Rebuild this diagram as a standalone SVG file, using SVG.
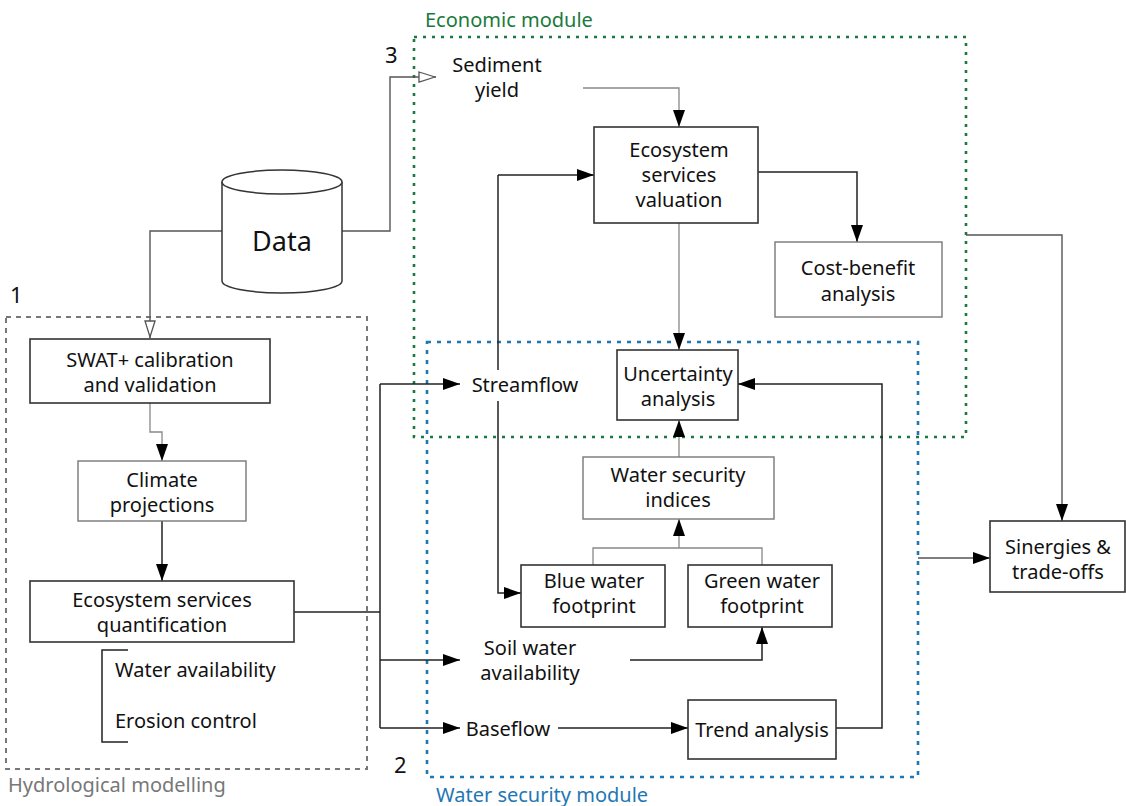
<svg xmlns="http://www.w3.org/2000/svg" width="1126" height="806" viewBox="0 0 1126 806">
<defs>
<marker id="arr" viewBox="0 0 17 12" refX="17" refY="6" markerWidth="17" markerHeight="12" markerUnits="userSpaceOnUse" orient="auto"><path d="M0,0 L17,6 L0,12 Z" fill="#000"/></marker>
<marker id="open" viewBox="0 0 18 12" refX="18" refY="6" markerWidth="18" markerHeight="12" markerUnits="userSpaceOnUse" orient="auto"><path d="M1,1 L17,6 L1,11 Z" fill="#fff" stroke="#555" stroke-width="1.3"/></marker>
</defs>
<style>
text{font-family:"Noto Sans","Open Sans","DejaVu Sans",sans-serif;font-size:20px;fill:#111;text-anchor:middle}
.l{text-anchor:start}
.box{fill:#fff;stroke:#333;stroke-width:1.6}
.gbox{fill:#fff;stroke:#777;stroke-width:1.4}
.c{fill:none;stroke:#222;stroke-width:1.5}
.cg{fill:none;stroke:#888;stroke-width:1.3}
.cd{fill:none;stroke:#555;stroke-width:1.4}
.a{marker-end:url(#arr)}
.o{marker-end:url(#open)}
</style>
<rect width="1126" height="806" fill="#fff"/>

<g id="modules">
<rect x="6" y="317" width="361" height="452" fill="none" stroke="#777" stroke-width="2" stroke-dasharray="5 5"/>
<rect x="414" y="37" width="552" height="400" fill="none" stroke="#1a7a3c" stroke-width="2.6" stroke-dasharray="3 6"/>
<rect x="427" y="342" width="491" height="435" fill="none" stroke="#1f77b4" stroke-width="2.6" stroke-dasharray="4 6"/>
<text class="l" x="425" y="27" style="fill:#1a7a3c">Economic module</text>
<text class="l" x="8" y="792" style="fill:#777">Hydrological modelling</text>
<text class="l" x="436" y="802" style="fill:#1f77b4">Water security module</text>
<text class="l" x="385" y="63" style="font-size:22px">3</text>
<text class="l" x="10" y="303" style="font-size:22px">1</text>
<text class="l" x="394" y="773" style="font-size:22px">2</text>
</g>

<g id="connectors">
<path class="cd o" d="M222,231 H150 V338"/>
<path class="cd o" d="M342,231 H390 V77 H436"/>
<path class="cg a" d="M150,403 V432 H162 V461"/>
<path class="c a" d="M162,521 V581"/>
<path class="c" d="M294,612 H380"/>
<path class="c" d="M380,384 V728"/>
<path class="c a" d="M380,384 H460"/>
<path class="c a" d="M380,660 H460"/>
<path class="c a" d="M380,728 H460"/>
<path class="c" d="M498,370 V175"/>
<path class="c a" d="M498,175 H594"/>
<path class="c a" d="M498,401 V593 H521"/>
<path class="cg a" d="M583,88 H679 V127"/>
<path class="c a" d="M758,172 H857 V242"/>
<path class="cg a" d="M679,223 V350"/>
<path class="c a" d="M836,728 H882 V384 H738"/>
<path class="cg a" d="M679,457 V420"/>
<path class="cg" d="M593,565 V548 H762 V565"/>
<path class="cg a" d="M679,548 V519"/>
<path class="c a" d="M630,660 H762 V627"/>
<path class="c a" d="M558,728 H688"/>
<path class="cd a" d="M966,235 H1062 V521"/>
<path class="cd a" d="M918,558 H990"/>
<path class="c" d="M128,650 H102 V742 H128"/>
</g>

<g id="data">
<path d="M222,182 V281 A60,12 0 0 0 342,281 V182" fill="#fff" stroke="#333" stroke-width="1.5"/>
<ellipse cx="282" cy="182" rx="60" ry="12" fill="#fff" stroke="#333" stroke-width="1.5"/>
<text x="282" y="251" style="font-size:27px">Data</text>
</g>

<g id="swat">
<rect class="box" x="30" y="339" width="240" height="64"/>
<text x="150" y="367">SWAT+ calibration</text>
<text x="150" y="392">and validation</text>
</g>

<g id="climate">
<rect class="gbox" x="78" y="461" width="168" height="60"/>
<text x="162" y="487">Climate</text>
<text x="162" y="512">projections</text>
</g>

<g id="esq">
<rect class="box" x="30" y="581" width="264" height="61"/>
<text x="162" y="607">Ecosystem services</text>
<text x="162" y="632">quantification</text>
</g>

<g id="services">
<text class="l" x="115" y="677">Water availability</text>
<text class="l" x="115" y="728">Erosion control</text>
</g>

<g id="sediment">
<text x="497" y="72">Sediment</text>
<text x="497" y="97">yield</text>
</g>

<g id="esv">
<rect class="box" x="594" y="127" width="164" height="96"/>
<text x="679" y="157">Ecosystem</text>
<text x="679" y="182">services</text>
<text x="679" y="207">valuation</text>
</g>

<g id="cba">
<rect class="gbox" x="775" y="242" width="167" height="75"/>
<text x="858" y="275">Cost-benefit</text>
<text x="858" y="301">analysis</text>
</g>

<g id="streamflow">
<text x="525" y="392">Streamflow</text>
</g>

<g id="uncertainty">
<rect class="box" x="617" y="350" width="121" height="70"/>
<text x="678" y="381">Uncertainty</text>
<text x="678" y="406">analysis</text>
</g>

<g id="wsi">
<rect class="gbox" x="583" y="457" width="191" height="62"/>
<text x="678" y="482">Water security</text>
<text x="678" y="507">indices</text>
</g>

<g id="blue">
<rect class="box" x="521" y="565" width="144" height="62"/>
<text x="594" y="588">Blue water</text>
<text x="594" y="613">footprint</text>
</g>

<g id="green">
<rect class="box" x="688" y="565" width="144" height="62"/>
<text x="762" y="588">Green water</text>
<text x="762" y="613">footprint</text>
</g>

<g id="soil">
<text x="530" y="655">Soil water</text>
<text x="530" y="680">availability</text>
</g>

<g id="baseflow">
<text x="508" y="736">Baseflow</text>
</g>

<g id="trend">
<rect class="box" x="688" y="700" width="148" height="59"/>
<text x="762" y="737">Trend analysis</text>
</g>

<g id="sinergies">
<rect class="box" x="990" y="521" width="135" height="71"/>
<text x="1058" y="554">Sinergies &amp;</text>
<text x="1058" y="579">trade-offs</text>
</g>
</svg>
